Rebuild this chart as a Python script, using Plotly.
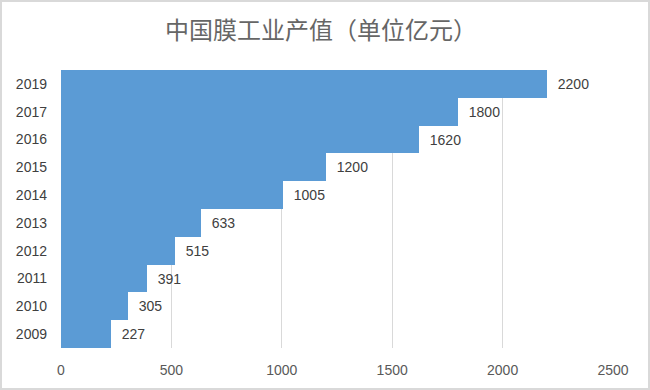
import plotly.graph_objects as go

years = ["2009", "2010", "2011", "2012", "2013", "2014", "2015", "2016", "2017", "2019"]
values = [227, 305, 391, 515, 633, 1005, 1200, 1620, 1800, 2200]
x_ticks = [0, 500, 1000, 1500, 2000, 2500]
title_text = "中国膜工业产值（单位亿元）"

W, H = 650, 390
ml, mr, mt, mb = 61, 37, 70, 42
pw, ph = W - ml - mr, H - mt - mb

fig = go.Figure(go.Bar(
    x=values, y=years, orientation="h",
    marker=dict(color="#5B9BD5", line=dict(width=0)),
    text=["  " + str(v) for v in values],
    textposition="outside",
    textfont=dict(family="Liberation Sans, Arial", size=14, color="#404040"),
    cliponaxis=False,
))

fig.update_layout(
    width=W, height=H,
    margin=dict(l=ml, r=mr, t=mt, b=mb),
    paper_bgcolor="white", plot_bgcolor="white",
    bargap=0,
    showlegend=False,
    title=dict(text=title_text, x=321 / W, xref="container", xanchor="center",
               y=1 - 31 / H, yanchor="middle",
               font=dict(family="Noto Sans CJK SC", size=24, color="#666666")),
    xaxis=dict(range=[0, 2500], tickvals=x_ticks, showgrid=True, gridcolor="#D9D9D9",
               gridwidth=1, zeroline=False, showline=False,
               ticks="", ticklabelstandoff=12,
               tickfont=dict(family="Liberation Sans, Arial", size=14, color="#595959")),
    yaxis=dict(type="category", categoryorder="array", categoryarray=years,
               showgrid=False, zeroline=False, showline=False, ticks="",
               ticklabelstandoff=13,
               tickfont=dict(family="Liberation Sans, Arial", size=14, color="#404040")),
    shapes=[dict(type="rect", xref="paper", yref="paper",
                 x0=(1 - ml) / pw, x1=(W - 1 - ml) / pw,
                 y0=(H - mb - (H - 1)) / ph, y1=(H - mb - 1) / ph,
                 line=dict(color="#D9D9D9", width=2), layer="below")],
)

fig.write_html("out.html", config={"displayModeBar": False},
               post_script="document.body.style.margin='0';document.body.style.overflow='hidden';")
